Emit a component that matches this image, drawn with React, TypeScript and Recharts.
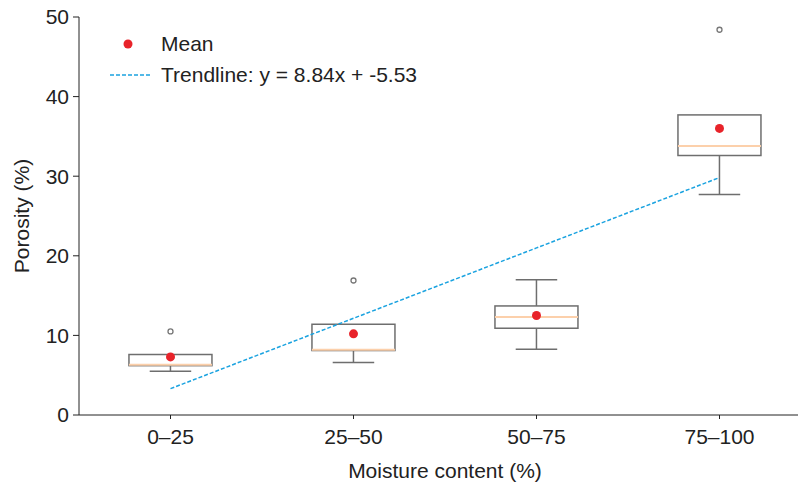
import { ComposedChart, Bar, Line, Scatter, XAxis, YAxis, Legend } from 'recharts';

const categories = ['0–25', '25–50', '50–75', '75–100'];
const whiskerLow = [5.5, 6.6, 8.25, 27.7];
const q1 = [6.2, 8.1, 10.9, 32.6];
const median = [6.3, 8.2, 12.3, 33.8];
const q3 = [7.6, 11.4, 13.7, 37.7];
const whiskerHigh = [7.6, 11.4, 17.0, 37.7];
const means = [7.3, 10.2, 12.5, 36.0];
const outliers = [10.5, 16.9, null, 48.4];
const trend = [3.31, 12.15, 20.99, 29.83];
const yTicks = [0, 10, 20, 30, 40, 50];

const data = categories.map((cat, i) => ({
  cat,
  range: [whiskerLow[i], whiskerHigh[i]],
  lo: whiskerLow[i],
  hi: whiskerHigh[i],
  q1: q1[i],
  med: median[i],
  q3: q3[i],
  mean: means[i],
  outlier: outliers[i],
  trend: trend[i],
}));

const FONT = '"Liberation Sans", Arial, sans-serif';
const BOX = '#6e6e6e';

function BoxShape(props: any) {
  const { x, y, width, height, payload } = props;
  const top = Math.min(y, y + height);
  const h = Math.abs(height);
  const span = payload.hi - payload.lo;
  const ppu = span > 0 ? h / span : 0;
  const py = (v: number) => top + (payload.hi - v) * ppu;
  const cx = x + width / 2;
  const cap = width / 4;
  return (
    <g>
      {payload.hi > payload.q3 && (
        <>
          <line x1={cx} x2={cx} y1={py(payload.hi)} y2={py(payload.q3)} stroke={BOX} strokeWidth={1.5} />
          <line x1={cx - cap} x2={cx + cap} y1={py(payload.hi)} y2={py(payload.hi)} stroke={BOX} strokeWidth={1.5} />
        </>
      )}
      <line x1={cx} x2={cx} y1={py(payload.q1)} y2={py(payload.lo)} stroke={BOX} strokeWidth={1.5} />
      <line x1={cx - cap} x2={cx + cap} y1={py(payload.lo)} y2={py(payload.lo)} stroke={BOX} strokeWidth={1.5} />
      <rect x={x} y={py(payload.q3)} width={width} height={py(payload.q1) - py(payload.q3)} fill="#fff" stroke={BOX} strokeWidth={1.5} />
      <line x1={x} x2={x + width} y1={py(payload.med)} y2={py(payload.med)} stroke="#fcd0ab" strokeWidth={2} />
    </g>
  );
}

function MeanDot(props: any) {
  const { cx, cy } = props;
  if (cx == null || cy == null) return null;
  return <circle cx={cx} cy={cy} r={4.5} fill="#e8232a" />;
}

function OutlierDot(props: any) {
  const { cx, cy, payload } = props;
  if (cx == null || cy == null || payload.outlier == null) return null;
  return <circle cx={cx} cy={cy} r={2.5} fill="#fff" stroke="#777" strokeWidth={1.3} />;
}

function LegendBox() {
  return (
    <svg width={330} height={60} style={{ display: 'block' }}>
      <circle cx={28} cy={14} r={4.5} fill="#e8232a" />
      <text x={61} y={14} dy="0.35em" fontSize={21} fontFamily={FONT} fill="#222">Mean</text>
      <line x1={10} x2={52} y1={45} y2={45} stroke="#1ba3e0" strokeWidth={1.5} strokeDasharray="4 2" />
      <text x={61} y={45} dy="0.35em" fontSize={21} fontFamily={FONT} fill="#222">Trendline: y = 8.84x + -5.53</text>
    </svg>
  );
}

export default function App() {
  return (
    <div style={{ position: 'fixed', left: 0, top: 0, width: 798, height: 486, overflow: 'hidden', background: '#fff' }}>
      <ComposedChart
        width={812}
        height={486}
        data={data}
        margin={{ top: 17, right: 1, left: 0, bottom: 0 }}
        barCategoryGap="27.3%"
      >
        <XAxis
          dataKey="cat"
          type="category"
          height={71}
          tickSize={4}
          tickMargin={10}
          stroke="#222"
          tick={{ fontSize: 21, fontFamily: FONT, fill: '#222' }}
          label={{ value: 'Moisture content (%)', position: 'insideBottom', offset: 8, style: { fontSize: 21, fontFamily: FONT, fill: '#222' } }}
        />
        <YAxis
          type="number"
          domain={[0, 50]}
          ticks={yTicks}
          width={79}
          tickSize={6}
          tickMargin={4}
          stroke="#222"
          tick={{ fontSize: 21, fontFamily: FONT, fill: '#222' }}
          label={{ value: 'Porosity (%)', angle: -90, position: 'insideLeft', offset: 22, style: { textAnchor: 'middle', fontSize: 21, fontFamily: FONT, fill: '#222' } }}
        />
        <Legend
          layout="horizontal"
          verticalAlign="middle"
          align="center"
          wrapperStyle={{ left: 100, top: 30, width: 330 }}
          content={() => <LegendBox />}
        />
        <Bar dataKey="range" shape={<BoxShape />} isAnimationActive={false} />
        <Line dataKey="trend" stroke="#1ba3e0" strokeWidth={1.5} strokeDasharray="4 2" dot={false} activeDot={false} isAnimationActive={false} />
        <Scatter dataKey="outlier" shape={<OutlierDot />} isAnimationActive={false} />
        <Scatter dataKey="mean" shape={<MeanDot />} isAnimationActive={false} />
      </ComposedChart>
    </div>
  );
}
